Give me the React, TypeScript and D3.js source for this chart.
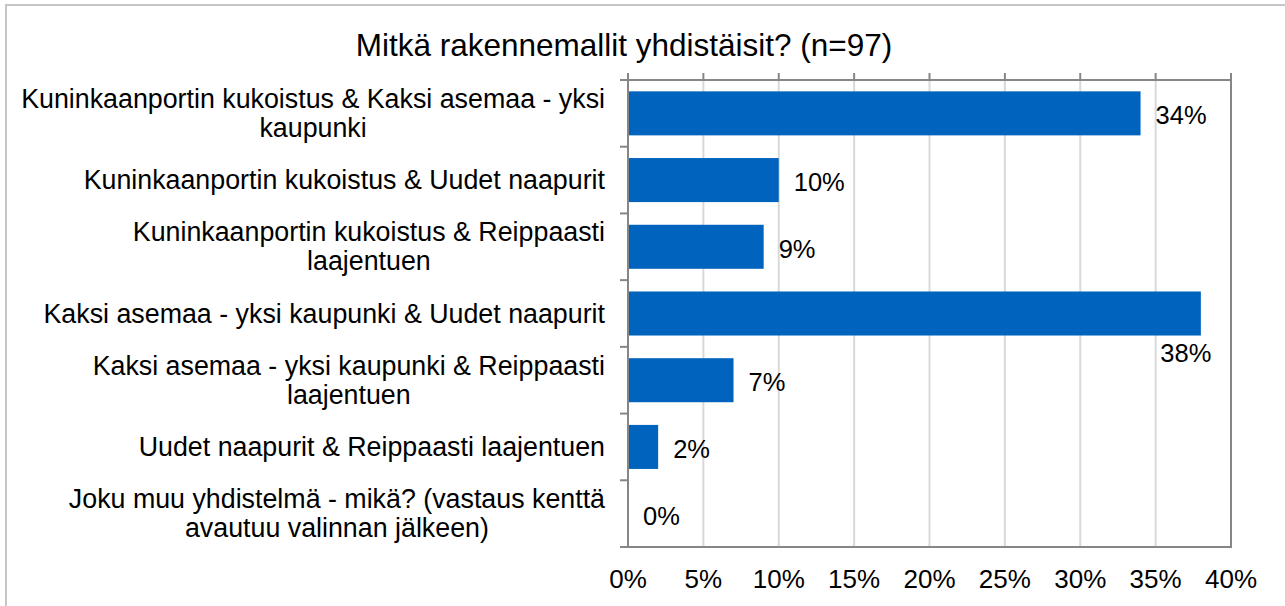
import React, { useEffect, useRef } from 'react'
import * as d3 from 'd3'

const categories: string[][] = [
  ['Kuninkaanportin kukoistus & Kaksi asemaa - yksi', 'kaupunki'],
  ['Kuninkaanportin kukoistus & Uudet naapurit'],
  ['Kuninkaanportin kukoistus & Reippaasti', 'laajentuen'],
  ['Kaksi asemaa - yksi kaupunki & Uudet naapurit'],
  ['Kaksi asemaa - yksi kaupunki & Reippaasti', 'laajentuen'],
  ['Uudet naapurit & Reippaasti laajentuen'],
  ['Joku muu yhdistelmä - mikä? (vastaus kenttä', 'avautuu valinnan jälkeen)'],
]
const values = [34, 10, 9, 38, 7, 2, 0]
const xTicks = [0, 5, 10, 15, 20, 25, 30, 35, 40]
const title = 'Mitkä rakennemallit yhdistäisit? (n=97)'

const W = 1285
const H = 606
const FONT = '"Liberation Sans", Arial, sans-serif'

const App: React.FC = () => {
  const svgRef = useRef<SVGSVGElement>(null)

  useEffect(() => {
    if (!svgRef.current) return
    const svg = d3.select(svgRef.current)
    svg.selectAll('*').remove()

    const margin = { top: 80, right: 54, bottom: 59, left: 628 }
    const width = W - margin.left - margin.right
    const height = H - margin.top - margin.bottom

    // outer chart border (runs past the window on the right and bottom)
    svg.append('rect')
      .attr('x', 6).attr('y', 5)
      .attr('width', W + 20).attr('height', H + 20)
      .attr('fill', '#fff')
      .attr('stroke', '#c6c6c6')
      .attr('stroke-width', 2)

    svg.append('text')
      .attr('x', 624).attr('y', 56)
      .attr('text-anchor', 'middle')
      .style('font-family', FONT)
      .style('font-size', '31.5px')
      .attr('fill', '#000')
      .text(title)

    const g = svg.append('g').attr('transform', `translate(${margin.left},${margin.top})`)

    const x = d3.scaleLinear().domain([0, 40]).range([0, width])
    const y = d3.scaleBand<number>()
      .domain(d3.range(categories.length))
      .range([0, height])
      .paddingInner(0.34)
      .paddingOuter(0.17)

    // gridlines with short ticks above the plot
    g.selectAll('.grid')
      .data(xTicks.slice(1, -1))
      .enter()
      .append('line')
      .attr('x1', d => x(d)).attr('x2', d => x(d))
      .attr('y1', 0).attr('y2', height)
      .attr('stroke', '#d9d9d9')
      .attr('stroke-width', 2)

    g.selectAll('.tick-top')
      .data(xTicks)
      .enter()
      .append('line')
      .attr('x1', d => x(d)).attr('x2', d => x(d))
      .attr('y1', -7).attr('y2', 0)
      .attr('stroke', '#868686')
      .attr('stroke-width', 2)

    // category boundary ticks on the left
    const step = height / categories.length
    g.selectAll('.tick-left')
      .data(d3.range(categories.length + 1))
      .enter()
      .append('line')
      .attr('x1', -8).attr('x2', 0)
      .attr('y1', d => d * step).attr('y2', d => d * step)
      .attr('stroke', '#868686')
      .attr('stroke-width', 2)

    // bars
    g.selectAll('.bar')
      .data(values)
      .enter()
      .append('rect')
      .attr('x', 0)
      .attr('y', (d, i) => y(i)!)
      .attr('width', d => x(d))
      .attr('height', y.bandwidth())
      .attr('fill', '#0064be')

    // plot frame
    g.append('rect')
      .attr('x', 0).attr('y', 0)
      .attr('width', width).attr('height', height)
      .attr('fill', 'none')
      .attr('stroke', '#868686')
      .attr('stroke-width', 2)

    // value labels (the 38% one sits under its bar, like in the original)
    g.selectAll('.val')
      .data(values)
      .enter()
      .append('text')
      .attr('x', d => (d === 38 ? x(d) - 15 : x(d) + 15))
      .attr('y', (d, i) => (d === 38 ? y(i)! + y.bandwidth() + 26 : y(i)! + y.bandwidth() / 2 + 11))
      .attr('text-anchor', d => (d === 38 ? 'middle' : 'start'))
      .style('font-family', FONT)
      .style('font-size', '25.5px')
      .attr('fill', '#000')
      .text(d => `${d}%`)

    // x tick labels
    g.selectAll('.xl')
      .data(xTicks)
      .enter()
      .append('text')
      .attr('x', d => x(d))
      .attr('y', height + 41)
      .attr('text-anchor', 'middle')
      .style('font-family', FONT)
      .style('font-size', '26px')
      .attr('fill', '#000')
      .text(d => `${d}%`)

    // category labels: block right-aligned, lines centred within block
    const lineH = 29
    categories.forEach((lines, i) => {
      const cy = i * step + step / 2
      const texts = lines.map((line, j) =>
        g.append('text')
          .attr('y', cy + (j - (lines.length - 1) / 2) * lineH + 9)
          .attr('text-anchor', 'middle')
          .style('font-family', FONT)
          .style('font-size', '26.8px')
          .attr('fill', '#000')
          .text(line)
      )
      const maxW = d3.max(texts, t => (t.node() as SVGTextElement).getComputedTextLength()) || 0
      texts.forEach(t => t.attr('x', -23 - maxW / 2))
    })
  }, [])

  return (
    <div style={{ position: 'absolute', left: 0, top: 0 }}>
      <svg ref={svgRef} width={W} height={H} style={{ display: 'block' }}></svg>
    </div>
  )
}

export default App
